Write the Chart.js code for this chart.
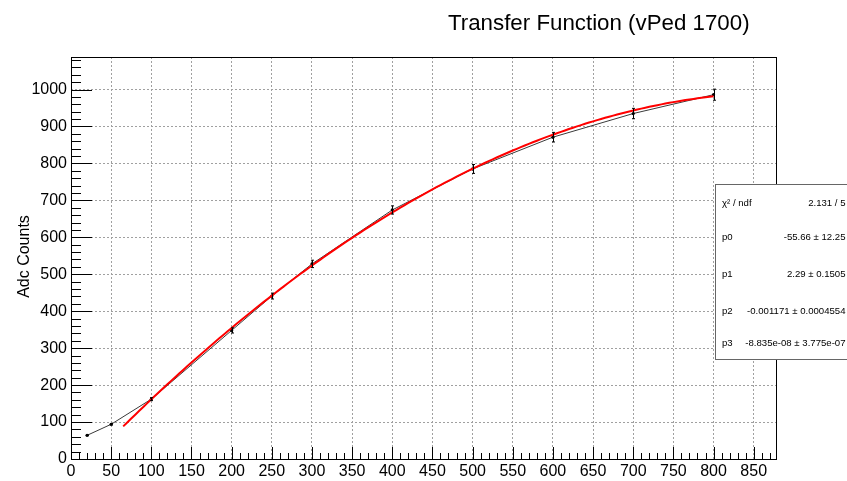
<!DOCTYPE html>
<html>
<head>
<meta charset="utf-8">
<script src="https://cdn.jsdelivr.net/npm/chart.js@4/dist/chart.umd.min.js"></script>
<style>
  html, body { margin: 0; padding: 0; background: #fff; }
  canvas { display: block; }
</style>
</head>
<body>
<canvas id="tf" width="847" height="481"></canvas>
<script>
// Injected charge (x) and measured ADC counts with uncertainties
const injected = [20, 50, 100, 200, 250, 300, 400, 500, 600, 700, 800];
const adcCounts = [64, 94, 162, 348, 441, 528, 674, 785, 871, 935, 986];
const adcErrors = [1, 2, 4, 7, 8, 10, 11, 12, 13, 14, 15];

// Cubic fit result pol3: p0 + p1 x + p2 x^2 + p3 x^3
const fitParams = [-55.66, 2.29, -0.001171, -8.835e-08];
const fitErrors = [12.25, 0.1505, 0.0004554, 3.775e-07];
const fitRange = [65, 800];
const chi2 = 2.131;
const ndf = 5;

// Axis ticks
const xTicks = [0, 50, 100, 150, 200, 250, 300, 350, 400, 450, 500, 550, 600, 650, 700, 750, 800, 850];
const yTicks = [0, 100, 200, 300, 400, 500, 600, 700, 800, 900, 1000];

const FONT = '"Liberation Sans", Arial, Helvetica, sans-serif';

const dataPoints = injected.map((x, i) => ({ x: x, y: adcCounts[i] }));

function pol3(x) {
  return fitParams[0] + fitParams[1] * x + fitParams[2] * x * x + fitParams[3] * x * x * x;
}
const fitPoints = [];
for (let x = fitRange[0]; x <= fitRange[1]; x += 5) fitPoints.push({ x: x, y: pol3(x) });

// Error bars, inner tick marks, frame, title and fit box
const decorations = {
  id: 'decorations',
  afterDatasetsDraw(chart) {
    const ctx = chart.ctx;
    const xs = chart.scales.x, ys = chart.scales.y;
    const a = chart.chartArea;
    ctx.save();

    // vertical error bars
    ctx.strokeStyle = '#000';
    ctx.lineWidth = 1;
    injected.forEach((x, i) => {
      const px = Math.round(xs.getPixelForValue(x)) + 0.5;
      const y1 = ys.getPixelForValue(adcCounts[i] - adcErrors[i]);
      const y2 = ys.getPixelForValue(adcCounts[i] + adcErrors[i]);
      ctx.beginPath();
      ctx.moveTo(px, y1); ctx.lineTo(px, y2);
      ctx.moveTo(px - 1.5, y1); ctx.lineTo(px + 1.5, y1);
      ctx.moveTo(px - 1.5, y2); ctx.lineTo(px + 1.5, y2);
      ctx.stroke();
    });

    // ticks pointing into the plot
    ctx.strokeStyle = '#000';
    ctx.beginPath();
    for (let v = 0; v <= xs.max; v += 10) {
      const px = Math.round(xs.getPixelForValue(v)) + 0.5;
      const len = (v % 50 === 0) ? 12 : 6;
      ctx.moveTo(px, a.bottom); ctx.lineTo(px, a.bottom - len);
    }
    for (let v = 0; v <= ys.max; v += 20) {
      const py = Math.round(ys.getPixelForValue(v)) + 0.5;
      const len = (v % 100 === 0) ? 21 : 10;
      ctx.moveTo(a.left, py); ctx.lineTo(a.left + len, py);
    }
    ctx.stroke();

    // frame
    ctx.strokeStyle = '#000';
    ctx.strokeRect(Math.round(a.left) + 0.5, Math.round(a.top) + 0.5,
                   Math.round(a.right - a.left) - 1, Math.round(a.bottom - a.top));
    ctx.restore();
  },
  afterDraw(chart) {
    const ctx = chart.ctx;
    ctx.save();
    ctx.fillStyle = '#000';

    // title
    ctx.font = '22.3px ' + FONT;
    ctx.textAlign = 'left';
    ctx.textBaseline = 'alphabetic';
    ctx.fillText('Transfer Function (vPed 1700)', 448, 29.5);

    // y axis title
    ctx.save();
    ctx.translate(28.5, 256.5);
    ctx.rotate(-Math.PI / 2);
    ctx.font = '16px ' + FONT;
    ctx.textAlign = 'center';
    ctx.fillText('Adc Counts', 0, 0);
    ctx.restore();

    // fit statistics box
    const bx = 715.5, by = 184.5, bw = 140, bh = 175;
    ctx.fillStyle = '#fff';
    ctx.fillRect(bx, by, bw, bh);
    ctx.strokeStyle = '#666';
    ctx.lineWidth = 1;
    ctx.strokeRect(bx, by, bw, bh);

    const fmtRows = [
      ['\u03C7\u00B2 / ndf', chi2.toFixed(3) + ' / ' + ndf],
      ['p0', fitParams[0] + ' \u00B1 ' + fitErrors[0]],
      ['p1', fitParams[1] + ' \u00B1 ' + fitErrors[1]],
      ['p2', fitParams[2].toFixed(6) + ' \u00B1 ' + fitErrors[2].toFixed(7)],
      ['p3', '-8.835e-08 \u00B1 3.775e-07']
    ];
    const rowY = [203, 237, 274, 311.5, 343];
    ctx.fillStyle = '#000';
    ctx.font = '9.6px ' + FONT;
    ctx.textBaseline = 'middle';
    fmtRows.forEach((r, i) => {
      ctx.textAlign = 'left';
      ctx.fillText(r[0], 722, rowY[i]);
      ctx.textAlign = 'right';
      ctx.fillText(r[1], 845.5, rowY[i]);
    });
    ctx.restore();
  }
};

new Chart(document.getElementById('tf'), {
  type: 'scatter',
  data: {
    datasets: [
      {
        label: 'pol3 fit',
        data: fitPoints,
        showLine: true,
        borderColor: '#ff0000',
        borderWidth: 2,
        pointRadius: 0,
        tension: 0,
        order: 0
      },
      {
        label: 'Adc Counts',
        data: dataPoints,
        showLine: true,
        borderColor: '#3a3a3a',
        borderWidth: 1,
        pointRadius: 1.6,
        pointBackgroundColor: '#000',
        pointBorderWidth: 0,
        tension: 0,
        order: 1
      }
    ]
  },
  options: {
    responsive: false,
    animation: false,
    events: [],
    layout: { padding: { left: 0, right: 70, top: 57, bottom: 0 } },
    plugins: {
      legend: { display: false },
      tooltip: { enabled: false },
      title: { display: false }
    },
    scales: {
      x: {
        type: 'linear',
        min: 0,
        max: 879,
        afterFit(s) { s.height = 22; },
        afterBuildTicks(s) { s.ticks = xTicks.map(v => ({ value: v })); },
        ticks: {
          color: '#000',
          font: { family: FONT, size: 16 },
          padding: 3,
          autoSkip: false,
          maxRotation: 0,
          includeBounds: false,
          callback: v => String(v)
        },
        grid: { color: '#a0a0a0', lineWidth: 1, drawTicks: false },
        border: { display: false, dash: [2, 2] }
      },
      y: {
        type: 'linear',
        min: 0,
        max: 1088,
        afterFit(s) { s.width = 71; },
        afterBuildTicks(s) { s.ticks = yTicks.map(v => ({ value: v })); },
        ticks: {
          color: '#000',
          font: { family: FONT, size: 16 },
          padding: 4,
          autoSkip: false,
          includeBounds: false,
          callback: v => String(v)
        },
        grid: { color: '#a0a0a0', lineWidth: 1, drawTicks: false },
        border: { display: false, dash: [2, 2] }
      }
    }
  },
  plugins: [decorations]
});
</script>
</body>
</html>
